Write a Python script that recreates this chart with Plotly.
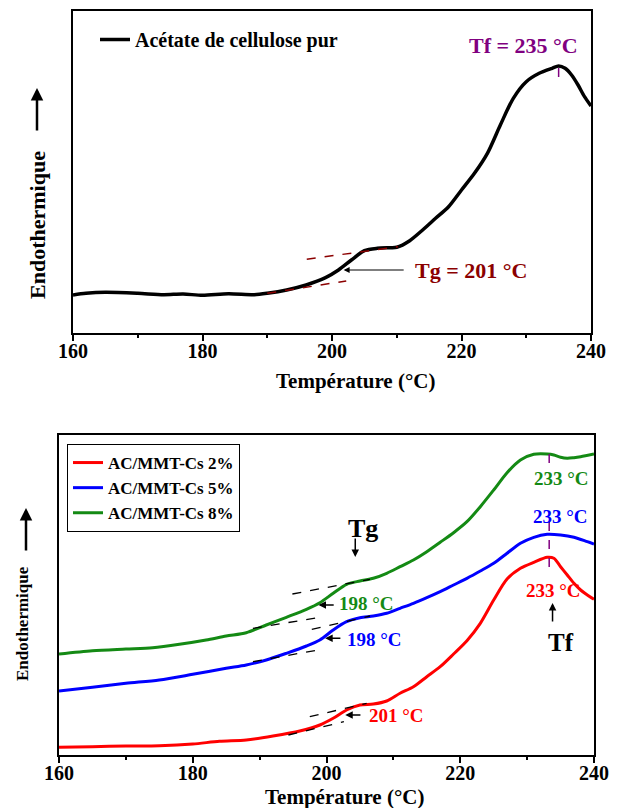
import plotly.graph_objects as go

# ---------------- data (arbitrary heat-flow units) ----------------
# Top panel: pure cellulose acetate
t_pur = [160, 162, 165, 170, 174, 177, 180, 184, 188, 190, 193, 196, 199, 201, 203, 205, 207, 209,
         210, 212, 214, 216, 218, 220, 222, 224, 226, 228, 230, 232, 234, 235, 236, 237, 238, 239, 240]
hf_pur = [38, 39.7, 40.7, 39.7, 38.3, 39, 37.7, 39.3, 38.3, 39.7, 43, 48, 55.3, 63, 73, 82.3, 84.7, 85.3,
          85.7, 92.3, 103, 114.7, 126.3, 143, 159.7, 179.7, 208, 234.7, 251.3, 259.7, 264.7, 267, 264.7,
          258, 248, 236.3, 227]

# tangent lines used for Tg (top)
tan_pur_low_x = [190.0, 202.2]
tan_pur_low_y = [39.7, 52.0]
tan_pur_up_x = [196.1, 210.2]
tan_pur_up_y = [73.7, 86.3]

# Bottom panel: composites
t_2 = [160, 165, 170, 175, 180, 184, 188, 192, 196, 199, 201, 203, 205, 207, 209, 211, 213, 215, 217,
       219, 221, 223, 225, 227, 229, 231, 233, 234, 235, 236, 237, 238, 239, 240]
hf_2 = [7.7, 8.3, 9, 9.3, 11, 13.7, 15, 19, 24, 30, 36.7, 45, 50, 51, 54, 61.7, 68.3, 78.3, 88.3,
        101, 114.3, 131.7, 155, 176, 186.7, 192.7, 197.7, 196.7, 188.3, 180, 171.7, 165, 160, 155.7]

t_5 = [160, 165, 170, 175, 180, 185, 188, 191, 194, 197, 199, 201, 203, 205, 207, 209, 211, 213, 215,
       217, 219, 221, 223, 225, 227, 229, 231, 233, 235, 237, 239, 240]
hf_5 = [64, 67.7, 71.7, 75, 80.7, 86.7, 90, 95, 101.7, 109, 115, 125, 133.3, 137.3, 139, 141.7, 146.7,
        151.7, 157.3, 163.3, 170, 176.7, 184, 191.7, 201.7, 211.7, 217.7, 220.7, 220, 217.7, 213.3, 211]

t_8 = [160, 165, 170, 174, 178, 182, 185, 188, 191, 194, 197, 199, 201, 203, 205, 207, 209, 211, 213,
       215, 217, 219, 221, 223, 225, 227, 229, 231, 233, 234, 235, 236, 237, 238, 240]
hf_8 = [101, 104.3, 106, 107.3, 110.7, 115, 119, 122.3, 130, 137.7, 145.7, 152.3, 161.7, 170.7, 174,
        176.7, 181.7, 188.3, 195, 203.3, 212.7, 222.3, 233.3, 248.3, 265, 282.3, 295, 300.7, 301, 300,
        297.7, 296.7, 297.3, 298.3, 301]

# tangent lines (bottom)
tan_8_up = ([194.9, 206.5], [161, 175.7])
tan_8_low = ([189.0, 199.6], [126.7, 138.3])
tan_5_up = ([197.8, 206.5], [125.7, 139])
tan_5_low = ([189.0, 199.3], [93.3, 105.7])
tan_2_up = ([197.5, 206.0], [38.3, 51.7])
tan_2_low = ([194.3, 202.6], [20, 33.3])

names = ["AC/MMT-Cs 2%", "AC/MMT-Cs 5%", "AC/MMT-Cs 8%"]
colors = ["#ff0000", "#0000ff", "#148a14"]

x_ticks = [160, 180, 200, 220, 240]

FONT = "Liberation Serif"
DARKRED = "#8b0000"
PURPLE = "#800080"

fig = go.Figure()

# ---------------- top panel ----------------
fig.add_trace(go.Scatter(x=t_pur, y=hf_pur, mode="lines", name="Acétate de cellulose pur",
                         line=dict(color="black", width=3.5, shape="spline", smoothing=0.8),
                         xaxis="x", yaxis="y", legend="legend"))
for xs, ys in [(tan_pur_low_x, tan_pur_low_y), (tan_pur_up_x, tan_pur_up_y)]:
    fig.add_trace(go.Scatter(x=xs, y=ys, mode="lines", showlegend=False,
                             line=dict(color=DARKRED, width=1.5, dash="dash"),
                             xaxis="x", yaxis="y"))
fig.add_trace(go.Scatter(x=[235, 235], y=[256, 271], mode="lines", showlegend=False,
                         line=dict(color=PURPLE, width=1.5, dash="dash"), xaxis="x", yaxis="y"))

# ---------------- bottom panel ----------------
for xs, ys, nm, c in [(t_2, hf_2, names[0], colors[0]), (t_5, hf_5, names[1], colors[1]),
                      (t_8, hf_8, names[2], colors[2])]:
    fig.add_trace(go.Scatter(x=xs, y=ys, mode="lines", name=nm,
                             line=dict(color=c, width=3, shape="spline", smoothing=0.8),
                             xaxis="x2", yaxis="y2", legend="legend2"))
for xs, ys in [tan_8_up, tan_8_low, tan_5_up, tan_5_low, tan_2_up, tan_2_low]:
    fig.add_trace(go.Scatter(x=xs, y=ys, mode="lines", showlegend=False,
                             line=dict(color="black", width=1.3, dash="dash"),
                             xaxis="x2", yaxis="y2"))
for ys in ([292, 310], [188, 233]):
    fig.add_trace(go.Scatter(x=[233.3, 233.3], y=ys, mode="lines", showlegend=False,
                             line=dict(color=PURPLE, width=1.5, dash="dash"), xaxis="x2", yaxis="y2"))

# ---------------- axes ----------------
xcommon = dict(range=[160, 240], tickvals=x_ticks, ticks="outside", ticklen=6, tickwidth=2,
               tickcolor="black", showline=True, linewidth=2, linecolor="black", mirror=True,
               showgrid=False, zeroline=False, automargin=False, ticklabelstandoff=-7,
               tickfont=dict(family=FONT, size=20, color="black", weight="bold"),
               minor=dict(tickvals=[170, 190, 210, 230], ticks="outside", ticklen=3, tickwidth=1.5,
                          tickcolor="black"))
ycommon = dict(showticklabels=False, ticks="", showline=True, linewidth=2, linecolor="black",
               mirror=True, showgrid=False, zeroline=False, automargin=False)

fig.update_layout(
    width=617, height=808, margin=dict(l=0, r=0, t=0, b=0, autoexpand=False),
    paper_bgcolor="white", plot_bgcolor="white",
    xaxis=dict(domain=[73 / 617, 591 / 617], anchor="y", **xcommon),
    yaxis=dict(domain=[(808 - 333) / 808, (808 - 11) / 808], anchor="x", range=[0, 322], **ycommon),
    xaxis2=dict(domain=[59 / 617, 594 / 617], anchor="y2", **xcommon),
    yaxis2=dict(domain=[(808 - 755) / 808, (808 - 435) / 808], anchor="x2", range=[0, 320], **ycommon),
    legend=dict(x=95 / 617, y=(808 - 20) / 808, xanchor="left", yanchor="top",
                bgcolor="rgba(0,0,0,0)", borderwidth=0,
                font=dict(family=FONT, size=20, color="black", weight="bold")),
    legend2=dict(x=67 / 617, y=(808 - 444) / 808, xanchor="left", yanchor="top",
                 bgcolor="white", bordercolor="black", borderwidth=1, tracegroupgap=0,
                 font=dict(family=FONT, size=17, color="black", weight="bold")),
)

ann = []


def txt(x, y, s, color, size, xref="x", yref="y", xanchor="center", angle=0):
    ann.append(dict(x=x, y=y, xref=xref, yref=yref, text=s, showarrow=False, xanchor=xanchor,
                    yanchor="middle", textangle=angle,
                    font=dict(family=FONT, size=size, color=color, weight="bold")))


def arrow(x, y, ax, ay, xref="x", yref="y", width=1.2, size=1.0):
    ann.append(dict(x=x, y=y, ax=ax, ay=ay, xref=xref, yref=yref, axref=xref, ayref=yref,
                    text="", showarrow=True, arrowhead=2, arrowsize=size, arrowwidth=width,
                    arrowcolor="black"))


# top annotations
txt(212.5, 63, "Tg = 201 °C", DARKRED, 22, xanchor="left")
arrow(201.8, 63, 211.3, 63)
txt(229.5, 288, "Tf = 235 °C", PURPLE, 22)

# bottom annotations
txt(201.6, 152, "198 °C", colors[2], 19, "x2", "y2", xanchor="left")
arrow(198.8, 150, 201.3, 150, "x2", "y2", width=1.5)
txt(202.8, 116, "198 °C", colors[1], 19, "x2", "y2", xanchor="left")
arrow(199.8, 116.7, 202.3, 116.7, "x2", "y2", width=1.5)
txt(206.1, 40, "201 °C", colors[0], 19, "x2", "y2", xanchor="left")
arrow(202.8, 40, 205.3, 40, "x2", "y2", width=1.5)
txt(205.5, 227, "Tg", "black", 26, "x2", "y2")
arrow(204.3, 198, 204.3, 218, "x2", "y2", width=1.5)
txt(235.1, 113, "Tf", "black", 25, "x2", "y2")
arrow(233.8, 152, 233.8, 132, "x2", "y2", width=1.5)
txt(235.1, 276, "233 °C", colors[2], 19, "x2", "y2")
txt(235.0, 239, "233 °C", colors[1], 19, "x2", "y2")
txt(234.0, 165, "233 °C", colors[0], 19, "x2", "y2")

# axis titles
txt(355 / 617, (808 - 381) / 808, "Température (°C)", "black", 21, "paper", "paper")
txt(344 / 617, (808 - 797) / 808, "Température (°C)", "black", 21, "paper", "paper")
txt(37 / 617, (808 - 225) / 808, "Endothermique", "black", 22, "paper", "paper", angle=-90)
txt(22 / 617, (808 - 624) / 808, "Endothermique", "black", 17, "paper", "paper", angle=-90)
for px, y0, y1 in [(37, 132, 88), (26, 552, 508)]:
    ann.append(dict(x=px / 617, y=(808 - y1) / 808, xref="paper", yref="paper", ax=0, ay=y0 - y1,
                    text="", showarrow=True, arrowhead=2, arrowsize=1, arrowwidth=2.5,
                    arrowcolor="black"))

fig.update_layout(annotations=ann)

fig.write_html("out.html")
